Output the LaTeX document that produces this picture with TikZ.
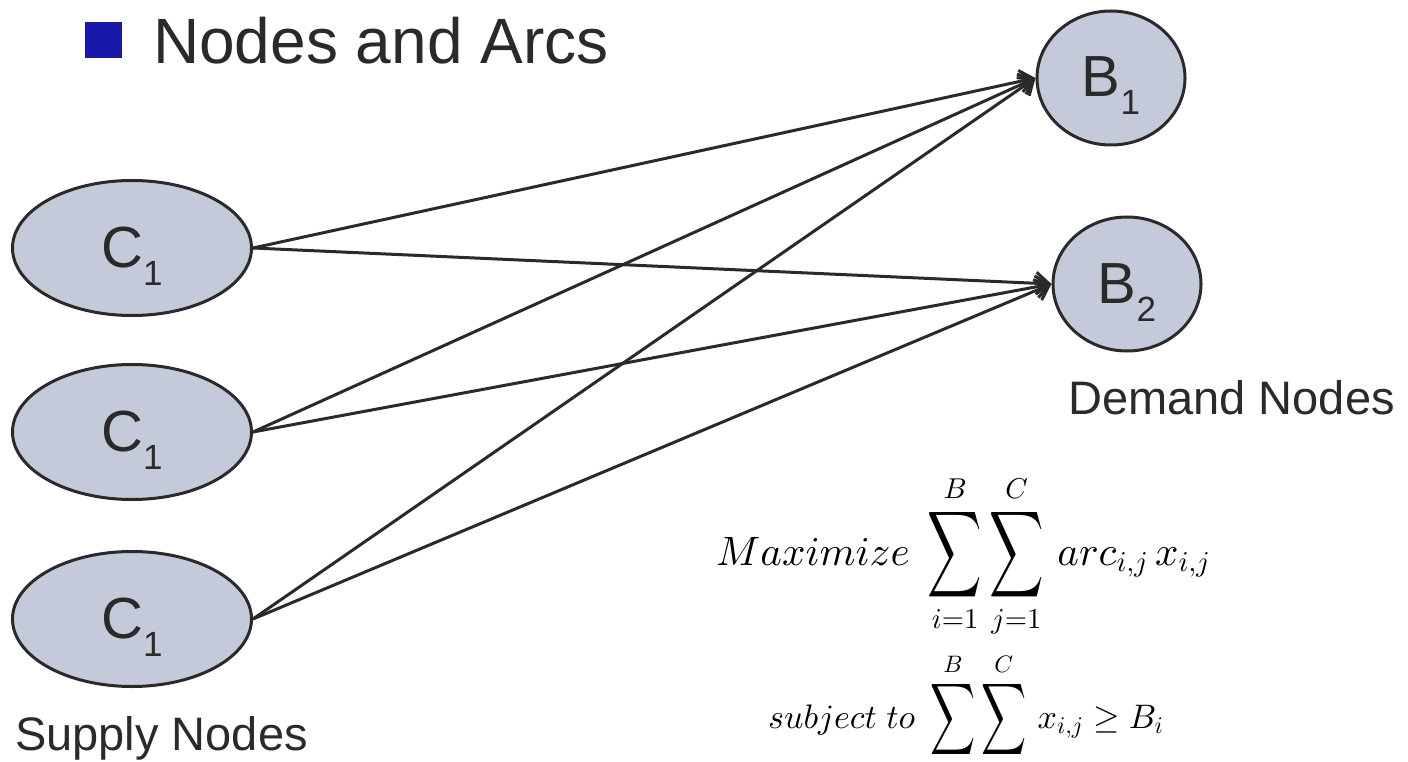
\documentclass[tikz,border=0pt]{standalone}
\usepackage{amsmath}
\usepackage{fontspec}
\usepackage{graphicx}
\setmainfont{Liberation Sans}
\DeclareFontShape{OMX}{cmex}{m}{n}{<->cmex10}{}
\DeclareFontShape{OML}{cmm}{m}{it}{<->cmmi10}{}
\DeclareFontShape{OMS}{cmsy}{m}{n}{<->cmsy10}{}
\DeclareFontShape{OT1}{cmr}{m}{n}{<->cmr10}{}
\usetikzlibrary{shapes.geometric,arrows.meta}
\definecolor{ink}{HTML}{2A2A2A}
\definecolor{nodefill}{HTML}{C5CADB}
\definecolor{bullet}{HTML}{1818A8}
\newcommand{\bsum}{\mathop{\vcenter{\hbox{\scalebox{0.92}[1.47]{$\displaystyle\sum$}}}}\limits}
\newcommand{\nodelabel}[2]{{\fontsize{58}{60}\selectfont #1\raisebox{-18pt}{\fontsize{35}{36}\selectfont #2}}}
\tikzset{
  netnode/.style={ellipse, draw=ink, line width=3pt, fill=nodefill, inner sep=0pt,
    text=ink, text height=38pt, text depth=0pt},
  supply/.style={netnode, minimum width=239pt, minimum height=135pt},
  demand/.style={netnode, minimum width=148pt, minimum height=134pt},
  arc/.style={draw=ink, line width=3pt, -{Straight Barb[length=13pt,width=22pt]}},
  plain/.style={inner sep=0pt, text=ink},
}
\begin{document}
\begin{tikzpicture}[x=1pt,y=-1pt]
\useasboundingbox (0,0) rectangle (1408,762);
% title
\fill[bullet] (85,22) rectangle (122,58);
\node[plain, anchor=base west] (title) at (153,64) {\fontsize{64}{70}\selectfont Nodes and Arcs};
% supply nodes
\node[supply] (c1) at (132,248) {\nodelabel{C}{1}};
\node[supply] (c2) at (132,432) {\nodelabel{C}{1}};
\node[supply] (c3) at (132,619) {\nodelabel{C}{1}};
% demand nodes
\node[demand] (b1) at (1111,78) {\nodelabel{B}{1}};
\node[demand] (b2) at (1127,284) {\nodelabel{B}{2}};
% arcs
\foreach \s in {c1,c2,c3}{
  \draw[arc] (\s.east) -- (b1.west);
  \draw[arc] (\s.east) -- (b2.west);
}
% labels
\node[plain, anchor=base west] (dem) at (1068,414) {\fontsize{47}{50}\selectfont Demand Nodes};
\node[plain, anchor=base west] (sup) at (15,750) {\fontsize{47}{50}\selectfont Supply Nodes};
% formulas
\node[inner sep=0pt, anchor=base west] (obj) at (716,565)
  {\fontsize{41}{49}\selectfont $\displaystyle Maximize\;\bsum_{i=1}^{B}\bsum_{j=1}^{C}\,arc_{i,j}\,x_{i,j}$};
\node[inner sep=0pt, anchor=base west] (con) at (768,728)
  {\fontsize{34}{40}\selectfont $\displaystyle subject\ to\;\bsum_{i=1}^{B}\bsum_{j=1}^{C}\,x_{i,j}\geq B_i$};
\end{tikzpicture}
\end{document}
